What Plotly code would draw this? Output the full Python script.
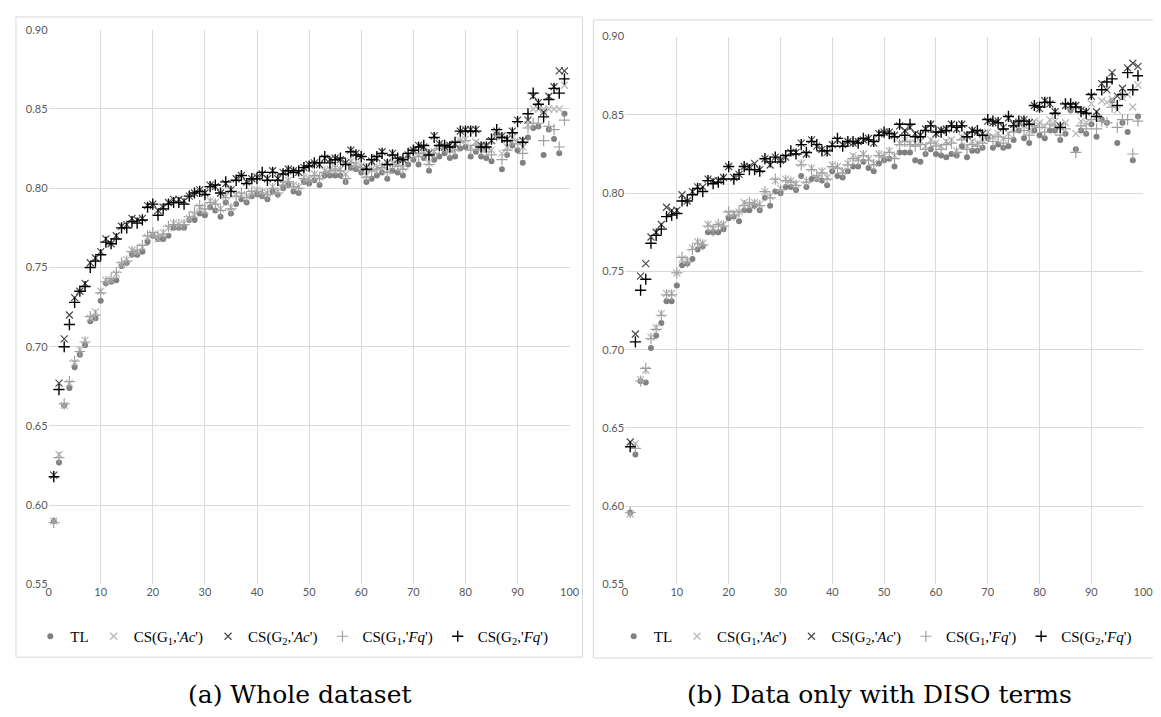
import plotly.graph_objects as go

W, H = 1161, 717

# ---------------- data: (a) Whole dataset ----------------
TL_a = [0.590,0.627,0.663,0.674,0.687,0.695,0.701,0.716,0.718,0.729,0.740,0.741,0.742,0.751,0.753,0.758,0.758,0.760,0.766,0.770,0.768,0.768,0.770,0.775,0.775,0.775,0.780,0.780,0.784,0.783,
        0.788,0.786,0.782,0.791,0.784,0.790,0.793,0.791,0.795,0.796,0.795,0.793,0.798,0.796,0.800,0.802,0.798,0.797,0.804,0.803,0.805,0.802,0.808,0.808,0.808,0.808,0.804,0.813,0.812,0.810,0.804,0.806,0.808,0.810,0.806,
        0.811,0.810,0.808,0.815,0.818,0.815,0.819,0.811,0.818,0.820,0.822,0.819,0.820,0.825,0.826,0.820,0.823,0.820,0.819,0.817,0.834,0.812,0.821,0.827,0.824,0.816,0.832,0.838,0.839,0.821,0.837,0.831,0.822,0.847]
G1Ac_a = [0.590,0.632,0.663,0.677,0.690,0.698,0.704,0.718,0.722,0.735,0.742,0.742,0.746,0.752,0.755,0.761,0.760,0.763,0.769,0.771,0.768,0.772,0.775,0.778,0.777,0.778,0.781,0.783,0.788,0.786,
          0.792,0.791,0.787,0.795,0.788,0.796,0.796,0.795,0.797,0.799,0.798,0.797,0.801,0.798,0.803,0.805,0.802,0.801,0.807,0.806,0.809,0.807,0.811,0.812,0.813,0.812,0.809,0.817,0.815,0.814,0.808,0.812,0.813,0.814,0.811,
          0.816,0.815,0.813,0.820,0.823,0.821,0.823,0.816,0.823,0.826,0.827,0.824,0.825,0.830,0.831,0.826,0.829,0.826,0.826,0.824,0.834,0.822,0.826,0.832,0.830,0.826,0.840,0.850,0.850,0.850,0.850,0.850,0.850,0.865]
G2Ac_a = [0.619,0.677,0.705,0.720,0.731,0.735,0.740,0.753,0.756,0.760,0.768,0.765,0.770,0.776,0.777,0.781,0.780,0.781,0.789,0.790,0.786,0.788,0.791,0.793,0.793,0.792,0.795,0.797,0.799,0.797,
          0.802,0.801,0.797,0.803,0.799,0.806,0.808,0.804,0.806,0.807,0.809,0.806,0.811,0.806,0.810,0.812,0.811,0.810,0.813,0.815,0.816,0.815,0.819,0.818,0.819,0.818,0.816,0.824,0.822,0.820,0.813,0.817,0.819,0.823,0.816,
          0.822,0.818,0.818,0.821,0.824,0.827,0.826,0.822,0.833,0.828,0.826,0.827,0.828,0.836,0.837,0.837,0.837,0.827,0.827,0.830,0.836,0.833,0.831,0.836,0.843,0.830,0.843,0.858,0.854,0.848,0.858,0.864,0.874,0.874]
G1Fq_a = [0.589,0.630,0.664,0.678,0.691,0.697,0.703,0.719,0.720,0.734,0.741,0.743,0.747,0.753,0.754,0.760,0.761,0.764,0.770,0.772,0.770,0.771,0.776,0.777,0.777,0.777,0.782,0.785,0.789,0.787,
          0.791,0.790,0.786,0.794,0.787,0.795,0.797,0.794,0.798,0.798,0.797,0.796,0.800,0.797,0.802,0.804,0.801,0.800,0.806,0.805,0.808,0.806,0.810,0.811,0.812,0.811,0.806,0.816,0.814,0.813,0.807,0.811,0.812,0.813,0.810,
          0.815,0.814,0.812,0.819,0.822,0.820,0.822,0.815,0.822,0.825,0.826,0.823,0.824,0.829,0.830,0.824,0.827,0.824,0.823,0.821,0.833,0.818,0.824,0.830,0.828,0.822,0.838,0.841,0.841,0.830,0.839,0.837,0.826,0.843]
G2Fq_a = [0.618,0.673,0.700,0.714,0.728,0.735,0.738,0.750,0.754,0.758,0.766,0.765,0.768,0.775,0.775,0.779,0.778,0.780,0.788,0.790,0.783,0.787,0.790,0.791,0.791,0.790,0.795,0.797,0.798,0.796,
          0.801,0.802,0.797,0.804,0.798,0.805,0.808,0.803,0.806,0.806,0.810,0.805,0.810,0.805,0.809,0.811,0.810,0.811,0.813,0.814,0.816,0.816,0.820,0.816,0.818,0.819,0.815,0.823,0.821,0.820,0.812,0.818,0.820,0.822,0.815,
          0.821,0.819,0.818,0.822,0.824,0.826,0.827,0.821,0.832,0.827,0.827,0.826,0.829,0.836,0.836,0.836,0.836,0.826,0.826,0.831,0.837,0.832,0.830,0.835,0.842,0.829,0.847,0.860,0.853,0.845,0.856,0.863,0.860,0.869]

# ---------------- data: (b) Data only with DISO terms ----------------
TL_b = [0.596,0.633,0.680,0.679,0.701,0.709,0.717,0.731,0.731,0.741,0.754,0.755,0.758,0.764,0.766,0.775,0.775,0.775,0.777,0.784,0.785,0.782,0.789,0.789,0.792,0.789,0.797,0.792,0.801,0.800,
        0.804,0.804,0.802,0.811,0.804,0.809,0.809,0.808,0.805,0.814,0.811,0.810,0.814,0.817,0.817,0.820,0.816,0.814,0.819,0.821,0.822,0.817,0.826,0.826,0.826,0.821,0.820,0.825,0.828,0.825,0.824,0.823,0.825,0.824,0.830,
        0.823,0.827,0.827,0.829,0.835,0.829,0.831,0.829,0.830,0.834,0.840,0.835,0.832,0.840,0.837,0.835,0.840,0.840,0.834,0.838,0.853,0.828,0.840,0.838,0.844,0.836,0.847,0.845,0.859,0.832,0.845,0.839,0.821,0.849]
G1Ac_b = [0.595,0.640,0.681,0.687,0.708,0.714,0.723,0.736,0.736,0.749,0.758,0.757,0.765,0.769,0.768,0.780,0.778,0.780,0.780,0.787,0.787,0.788,0.794,0.792,0.794,0.793,0.801,0.798,0.808,0.803,
          0.809,0.808,0.806,0.819,0.808,0.816,0.810,0.814,0.810,0.818,0.817,0.814,0.819,0.824,0.822,0.825,0.822,0.819,0.825,0.824,0.827,0.824,0.832,0.834,0.832,0.832,0.833,0.830,0.834,0.832,0.830,0.833,0.834,0.827,0.836,
          0.830,0.833,0.832,0.834,0.839,0.836,0.838,0.835,0.838,0.841,0.846,0.843,0.840,0.846,0.845,0.843,0.847,0.846,0.842,0.845,0.855,0.838,0.846,0.845,0.857,0.849,0.859,0.858,0.860,0.853,0.861,0.863,0.855,0.869]
G2Ac_b = [0.641,0.710,0.747,0.755,0.772,0.775,0.780,0.791,0.789,0.789,0.799,0.795,0.801,0.804,0.804,0.809,0.808,0.808,0.810,0.817,0.810,0.812,0.817,0.817,0.819,0.815,0.822,0.818,0.823,0.821,
          0.823,0.826,0.826,0.832,0.825,0.834,0.830,0.828,0.826,0.831,0.834,0.831,0.833,0.832,0.833,0.834,0.835,0.832,0.838,0.839,0.839,0.837,0.843,0.840,0.842,0.838,0.837,0.841,0.844,0.838,0.840,0.841,0.844,0.841,0.844,
          0.837,0.840,0.839,0.838,0.846,0.845,0.846,0.842,0.848,0.844,0.845,0.847,0.845,0.856,0.854,0.859,0.857,0.852,0.843,0.856,0.856,0.856,0.853,0.852,0.862,0.852,0.870,0.866,0.877,0.862,0.867,0.880,0.883,0.881]
G1Fq_b = [0.596,0.637,0.680,0.688,0.707,0.713,0.722,0.735,0.735,0.749,0.759,0.756,0.764,0.768,0.767,0.779,0.776,0.780,0.779,0.788,0.786,0.788,0.792,0.794,0.793,0.792,0.801,0.797,0.809,0.802,
          0.808,0.807,0.805,0.818,0.807,0.815,0.811,0.813,0.809,0.817,0.816,0.813,0.818,0.822,0.821,0.824,0.821,0.818,0.824,0.823,0.826,0.822,0.831,0.833,0.831,0.830,0.831,0.828,0.832,0.830,0.828,0.831,0.832,0.826,0.834,
          0.828,0.831,0.830,0.832,0.837,0.833,0.836,0.832,0.835,0.839,0.844,0.840,0.837,0.843,0.842,0.839,0.844,0.843,0.837,0.841,0.854,0.826,0.843,0.841,0.847,0.841,0.846,0.845,0.855,0.842,0.847,0.847,0.825,0.846]
G2Fq_b = [0.638,0.705,0.738,0.745,0.768,0.773,0.777,0.785,0.786,0.787,0.795,0.795,0.799,0.803,0.801,0.808,0.806,0.807,0.809,0.817,0.809,0.812,0.817,0.815,0.815,0.814,0.822,0.820,0.823,0.820,
          0.824,0.827,0.825,0.831,0.826,0.833,0.831,0.827,0.827,0.830,0.835,0.830,0.833,0.833,0.832,0.835,0.834,0.833,0.837,0.839,0.838,0.836,0.844,0.837,0.844,0.836,0.836,0.840,0.843,0.839,0.839,0.840,0.843,0.842,0.843,
          0.836,0.839,0.840,0.837,0.847,0.846,0.845,0.841,0.849,0.843,0.846,0.846,0.844,0.856,0.855,0.858,0.858,0.851,0.842,0.857,0.857,0.855,0.852,0.851,0.863,0.849,0.866,0.871,0.873,0.856,0.863,0.877,0.866,0.875]

NAMES = ["TL", "CS(G<sub>1</sub>,'<i>Ac</i>')", "CS(G<sub>2</sub>,'<i>Ac</i>')",
         "CS(G<sub>1</sub>,'<i>Fq</i>')", "CS(G<sub>2</sub>,'<i>Fq</i>')"]
X_TICKS = [0, 10, 20, 30, 40, 50, 60, 70, 80, 90, 100]
Y_TICKS = [0.55, 0.60, 0.65, 0.70, 0.75, 0.80, 0.85, 0.90]
CAPTIONS = ["(a) Whole dataset", "(b) Data only with DISO terms"]

STYLES = [
    dict(symbol="circle", color="#808080", size=6, lw=0),
    dict(symbol="x-thin", color="#b8b8b8", size=7, lw=1.2),
    dict(symbol="x-thin", color="#4a4a4a", size=7, lw=1.2),
    dict(symbol="cross-thin", color="#a0a0a0", size=8, lw=1.2),
    dict(symbol="cross-thin", color="#000000", size=8, lw=1.4),
]

fig = go.Figure()
panels = [(TL_a, G1Ac_a, G2Ac_a, G1Fq_a, G2Fq_a), (TL_b, G1Ac_b, G2Ac_b, G1Fq_b, G2Fq_b)]
for p, series in enumerate(panels):
    xa = "x" if p == 0 else "x2"
    ya = "y" if p == 0 else "y2"
    lg = "legend" if p == 0 else "legend2"
    for name, ys, st in zip(NAMES, series, STYLES):
        fig.add_trace(go.Scatter(
            x=list(range(1, len(ys) + 1)), y=ys, mode="markers", name=name,
            xaxis=xa, yaxis=ya, legend=lg,
            marker=dict(symbol=st["symbol"], size=st["size"], color=st["color"],
                        line=dict(width=st["lw"], color=st["color"])),
        ))

def px(v):
    return v / W

def py(v):
    return 1 - v / H

axis_font = dict(family="Lato, Open Sans, sans-serif", size=11, color="#595959")
common_x = dict(range=[0, 100], tickvals=X_TICKS, showgrid=True, gridcolor="#d9d9d9",
                gridwidth=1, zeroline=False, showline=False, ticks="", tickfont=axis_font,
                fixedrange=True)
common_y = dict(range=[0.55, 0.90], tickvals=Y_TICKS, tickformat=".2f", showgrid=True,
                gridcolor="#d9d9d9", gridwidth=1, zeroline=False, showline=False, ticks="",
                tickfont=axis_font, fixedrange=True)

leg_common = dict(orientation="h", xanchor="center", yanchor="middle",
                  font=dict(family="Liberation Serif, Times New Roman, serif", size=15, color="#000"),
                  bgcolor="rgba(0,0,0,0)", itemwidth=30, tracegroupgap=0, traceorder="normal")

fig.update_layout(
    width=W, height=H, margin=dict(l=0, r=0, t=0, b=0),
    paper_bgcolor="white", plot_bgcolor="white",
    xaxis=dict(domain=[px(38), px(565)], anchor="y", **common_x),
    yaxis=dict(domain=[py(580), py(15)], anchor="x", **common_y),
    xaxis2=dict(domain=[px(621), px(1145)], anchor="y2", **common_x),
    yaxis2=dict(domain=[py(580), py(22)], anchor="x2", **common_y),
    legend=dict(x=px(284), y=py(633), **leg_common),
    legend2=dict(x=px(874), y=py(633), **leg_common),
    shapes=[
        dict(type="rect", xref="paper", yref="paper", x0=px(5), x1=px(578), y0=py(654), y1=py(2),
             line=dict(color="#d9d9d9", width=1)),
        dict(type="rect", xref="paper", yref="paper", x0=px(589), x1=px(1157), y0=py(655), y1=py(5),
             line=dict(color="#d9d9d9", width=1)),
    ],
    annotations=[
        dict(text=CAPTIONS[0], x=px(292), y=py(692), xref="paper", yref="paper", showarrow=False,
             xanchor="center", yanchor="middle",
             font=dict(family="DejaVu Serif, serif", size=25, color="#000")),
        dict(text=CAPTIONS[1], x=px(878), y=py(692), xref="paper", yref="paper", showarrow=False,
             xanchor="center", yanchor="middle",
             font=dict(family="DejaVu Serif, serif", size=25, color="#000")),
    ],
)

fig.write_html("out.html")
